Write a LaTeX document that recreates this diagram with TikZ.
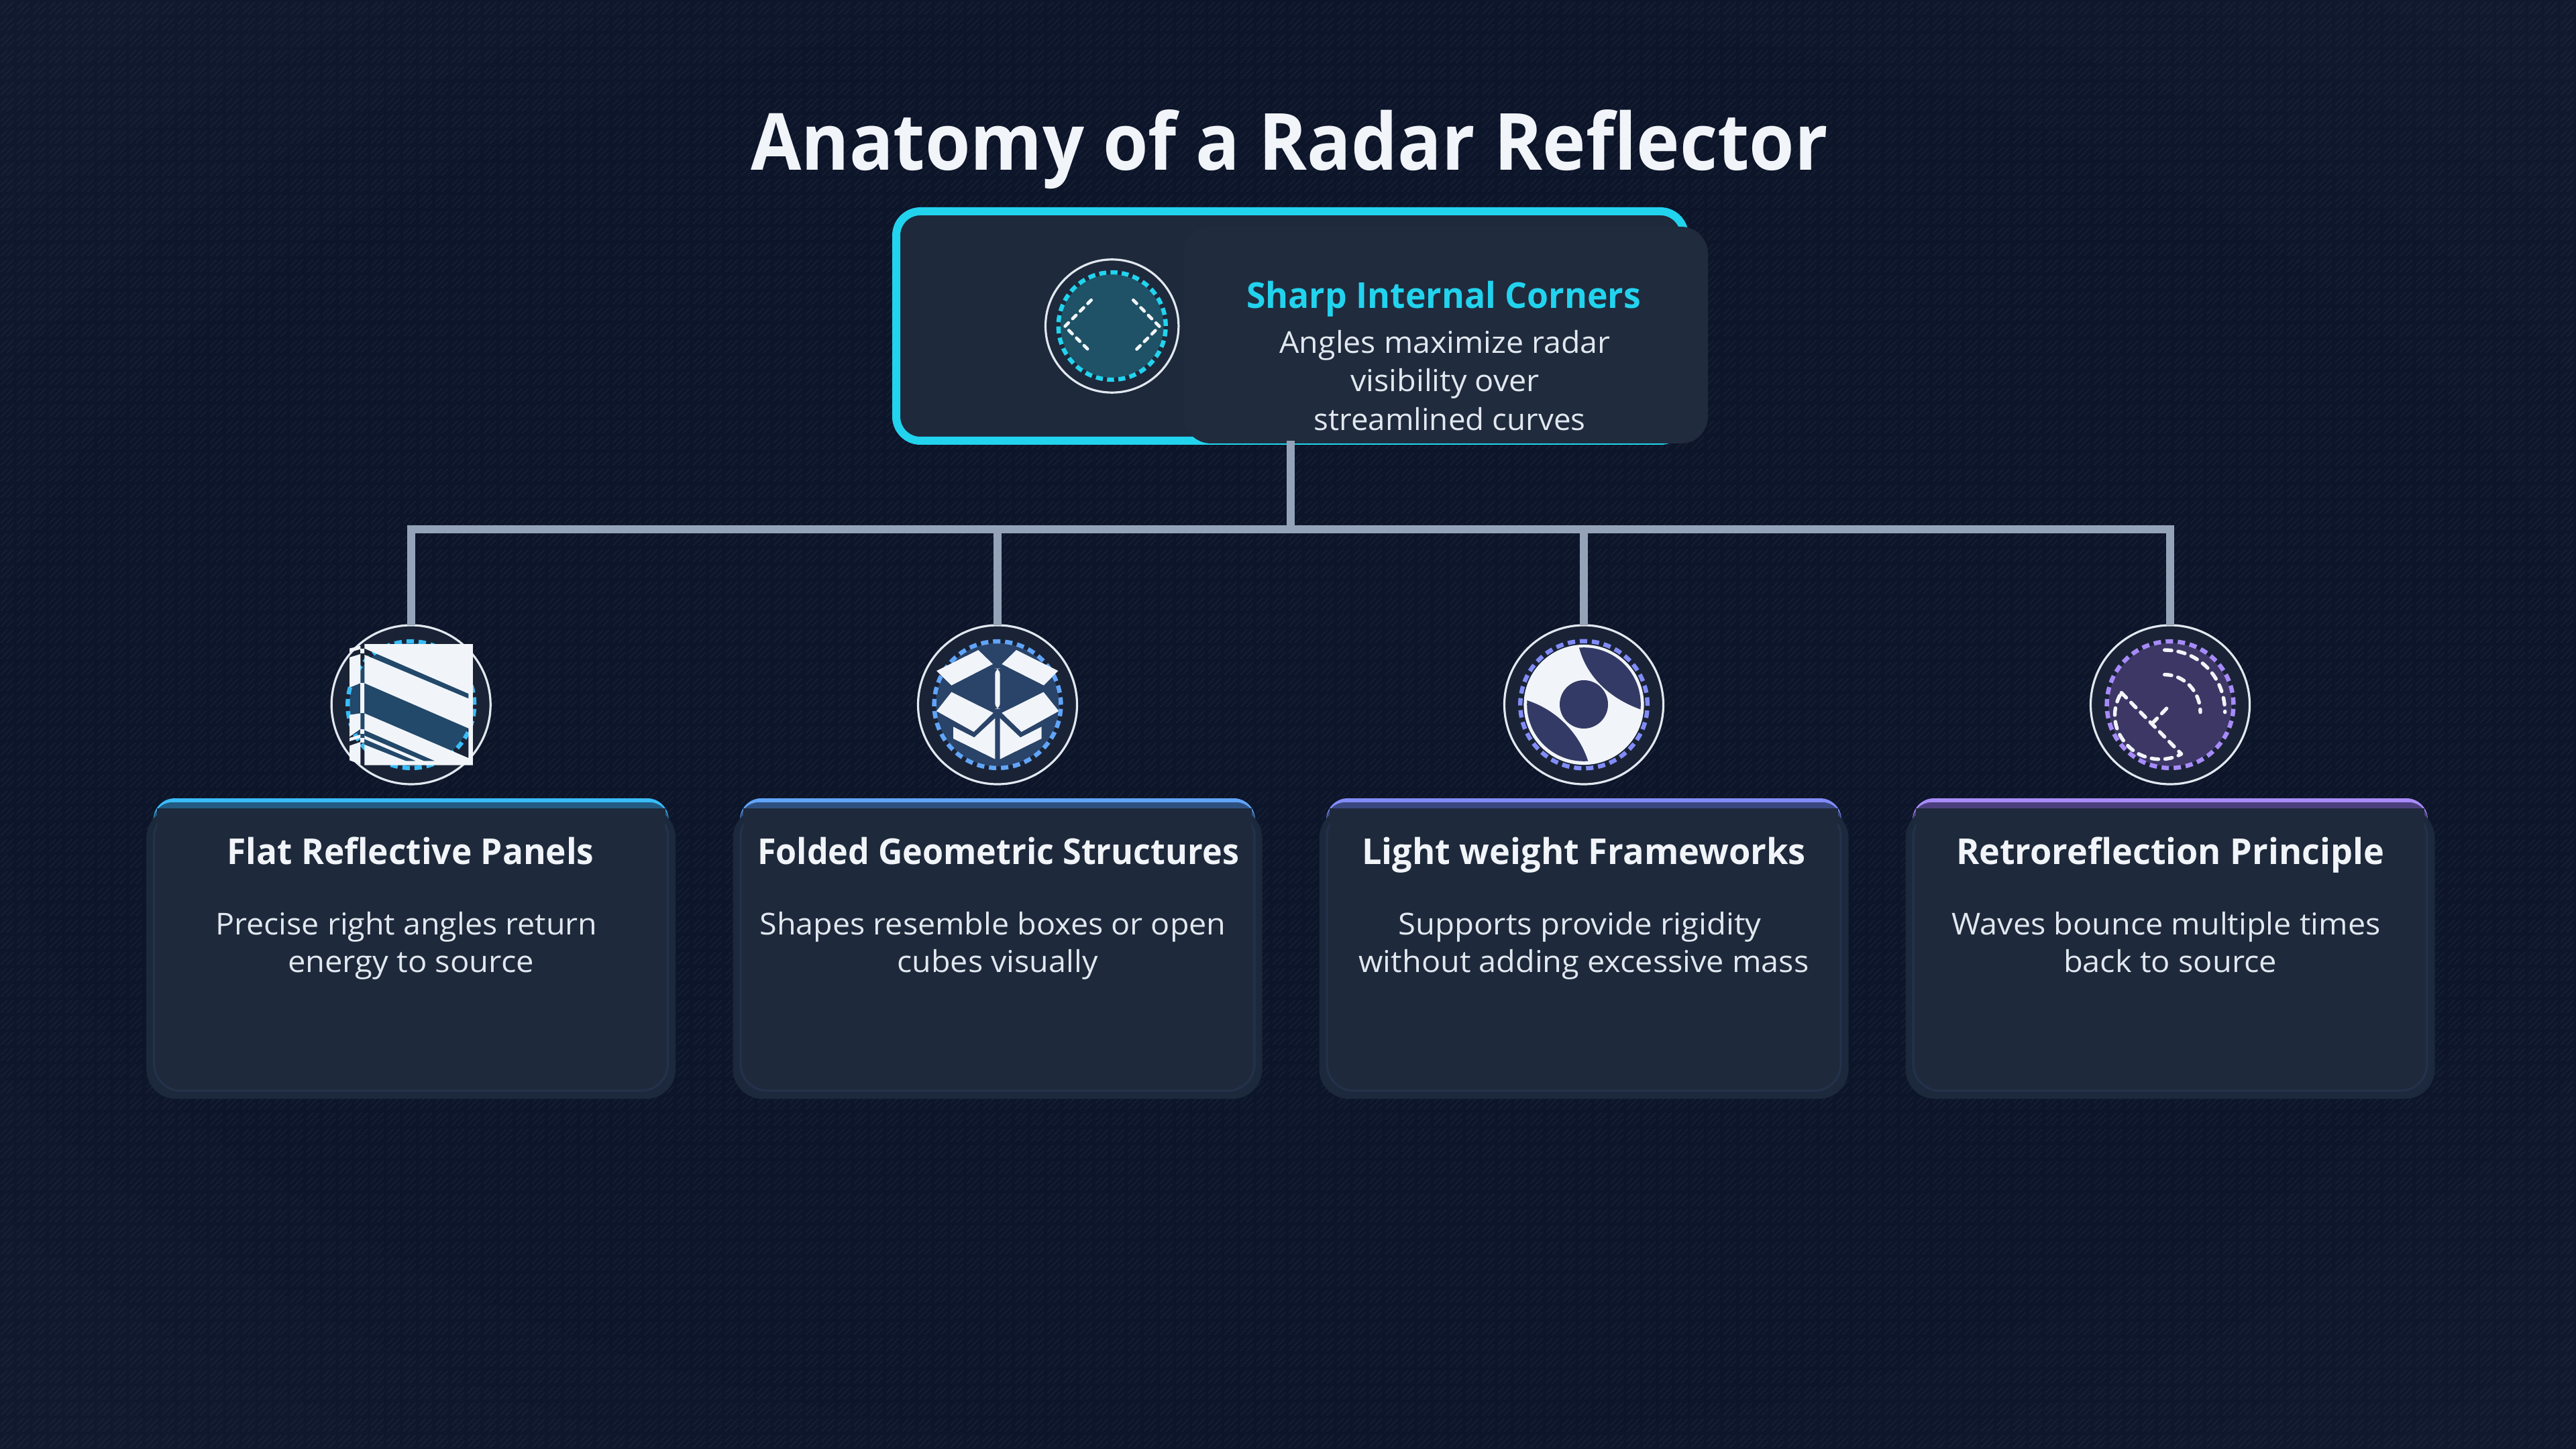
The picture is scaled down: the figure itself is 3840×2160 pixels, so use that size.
\documentclass[tikz,border=0pt]{standalone}
\usepackage{fontspec}
\usetikzlibrary{patterns}
\setmainfont{Open Sans}
\newcommand\headf{\bfseries}
\definecolor{bgin}{HTML}{0D152A}
\definecolor{bgout}{HTML}{1C263B}
\definecolor{cardfill}{HTML}{1E293B}
\definecolor{cardrim}{HTML}{1C283C}
\definecolor{cardedge}{HTML}{23314A}
\definecolor{discfill}{HTML}{1A2335}
\definecolor{ringline}{HTML}{E2E8F0}
\definecolor{wire}{HTML}{94A3B8}
\definecolor{paper}{HTML}{F1F5F9}
\definecolor{cyanA}{HTML}{22D3EE}
\definecolor{cyanB}{HTML}{1F5266}
\definecolor{blueA}{HTML}{38BDF8}
\definecolor{blueB}{HTML}{22486A}
\definecolor{blueC}{HTML}{235B82}
\definecolor{azureA}{HTML}{60A5FA}
\definecolor{azureB}{HTML}{2A4368}
\definecolor{azureC}{HTML}{2E5080}
\definecolor{indA}{HTML}{818CF8}
\definecolor{indB}{HTML}{333A66}
\definecolor{indC}{HTML}{3A4780}
\definecolor{vioA}{HTML}{A78BFA}
\definecolor{vioB}{HTML}{3D3765}
\definecolor{vioC}{HTML}{4C3F7E}
\pgfdeclareradialshading{bgshade}{\pgfpoint{0bp}{0bp}}{color(0bp)=(bgin);color(24bp)=(bgin);color(66bp)=(bgout)}
\pgfdeclarepatternformonly{tilediag}{\pgfqpoint{0pt}{0pt}}{\pgfqpoint{6pt}{6pt}}{\pgfqpoint{6pt}{6pt}}{%
  \pgfsetlinewidth{.4pt}\pgfsetroundcap
  \pgfpathmoveto{\pgfqpoint{.6pt}{.6pt}}\pgfpathlineto{\pgfqpoint{5.4pt}{5.4pt}}
  \pgfpathmoveto{\pgfqpoint{.6pt}{3pt}}\pgfpathlineto{\pgfqpoint{3pt}{5.4pt}}
  \pgfpathmoveto{\pgfqpoint{3pt}{.6pt}}\pgfpathlineto{\pgfqpoint{5.4pt}{3pt}}
  \pgfusepath{stroke}}
\newlength\fwl
\newcommand\fw[2]{\settowidth\fwl{#2}\pgfmathsetmacro\fwf{#1*0.25/\fwl}\scalebox{\fwf}[1]{#2}}
\tikzset{
  txt/.style={anchor=base,inner sep=0pt,outer sep=0pt},
  bodytxt/.style={txt,text=ringline,font=\fontsize{11.25}{13}\selectfont},
  headtxt/.style={txt,text=paper,font=\headf\fontsize{13.3}{15}\selectfont},
  disc/.style={circle,draw=ringline,line width=.8pt,fill=discfill,minimum size=59.25pt,inner sep=0pt,outer sep=0pt},
  wirel/.style={draw=wire,line width=3pt},
  zoomed/.style={x=.083333pt,y=-.083333pt},
  dashring/.style={line width=1.6pt,dash pattern=on 2.75pt off 1.75pt},
  glyph/.style={draw=paper,line cap=round,line join=round},
}
\begin{document}
\begin{tikzpicture}[x=.25pt,y=-.25pt]
\useasboundingbox (0,0) rectangle (3840,2160);
\shade[shading=bgshade] (0,0) rectangle (3840,2160);
\fill[pattern=tilediag,pattern color=white,fill opacity=.045] (0,0) rectangle (3840,2160);

% title
\node[txt,text=paper,font=\headf\fontsize{29.4}{32}\selectfont] (title) at (1922,254) {\fw{1606}{Anatomy of a Radar Reflector}};

% top card
\node[rectangle,draw=cyanA,line width=3pt,fill=cardfill,rounded corners=9pt,minimum width=293.75pt,minimum height=85.5pt,outer sep=0pt,inner sep=0pt] (main) at (1923.5,486) {};
\fill[fill=cardfill!99!white,rounded corners=10pt] (1765,338) rectangle (2546,661);
\node[circle,draw=ringline,line width=.8pt,minimum size=49.6pt,inner sep=0pt,outer sep=0pt] (topdisc) at (1657.7,486) {};
\fill[cyanB] (topdisc.center) circle[radius=19.2pt];
\draw[cyanA,line width=1.6pt,dash pattern=on 2.6pt off 1.6pt] (topdisc.center) circle[radius=20pt];
\begin{scope}[shift={(1500,360)},zoomed]
  \draw[glyph,line width=1.2pt,dash pattern=on 1.8pt off 2.2pt] (380,262) -- (262,380) -- (380,497);
  \draw[glyph,line width=1.2pt,dash pattern=on 1.8pt off 2.2pt] (568,262) -- (685,380) -- (568,497);
\end{scope}
\node[txt,text=cyanA,font=\headf\fontsize{13.3}{15}\selectfont] (toph) at (2152,460) {\fw{588}{Sharp Internal Corners}};
\node[bodytxt] (topa) at (2154,527) {\fw{493}{Angles maximize radar}};
\node[bodytxt] (topb) at (2154,584) {\fw{282}{visibility over}};
\node[bodytxt] (topc) at (2161,642) {\fw{405}{streamlined curves}};

% cards
\foreach \n/\cx/\cA/\cC in {1/612.7/blueA/blueC,2/1487/azureA/azureC,3/2361/indA/indC,4/3235/vioA/vioC}{
  \fill[\cA,rounded corners=8pt] (\cx-384,1190) rectangle (\cx+384,1300);
  \fill[\cC,rounded corners=7pt] (\cx-384,1196) rectangle (\cx+384,1300);
  \node[rectangle,fill=cardrim,rounded corners=11pt,minimum width=197.25pt,minimum height=108.25pt,inner sep=0pt,outer sep=0pt] (card\n) at (\cx,1421.5) {};
  \fill[cardfill,draw=cardedge,line width=.8pt,rounded corners=10pt] (\cx-383,1207) rectangle (\cx+383,1626);
  \fill[cardfill] (\cx-379,1205) rectangle (\cx+379,1230);
  \node[disc] (ic\n) at (\cx,1050.5) {};
}

% connectors
\coordinate (hub) at (main.south |- 0,789);
\coordinate (h1) at (ic1.north |- hub);
\coordinate (h2) at (ic2.north |- hub);
\coordinate (h3) at (ic3.north |- hub);
\coordinate (h4) at (ic4.north |- hub);
\draw[wirel] (main.south) -- (hub);
\draw[wirel] (ic1.north) -- (h1) -- (h4) -- (ic4.north);
\draw[wirel] (h2) -- (ic2.north);
\draw[wirel] (h3) -- (ic3.north);

% icon bases
\fill[blueB] (ic1.center) circle[radius=23pt];
\fill[azureB] (ic2.center) circle[radius=23pt];
\fill[paper] (ic3.center) circle[radius=22.4pt];
\fill[vioB] (ic4.center) circle[radius=23pt];
\draw[blueA,dashring] (ic1.center) circle[radius=23.6pt];
\draw[azureA,dashring] (ic2.center) circle[radius=23.6pt];
\draw[indA,dashring] (ic3.center) circle[radius=23.7pt];
\draw[vioA,dashring] (ic4.center) circle[radius=23.6pt];

% icon 1: panels
\begin{scope}[shift={(460,900)},zoomed]
  \fill[paper,even odd rule] (250,180) -- (735,180) -- (735,722) -- (250,722) -- cycle
    (250,200) -- (715,402) -- (715,424) -- (250,228) -- cycle
    (250,355) -- (715,557) -- (715,690) -- (250,490) -- cycle
    (250,565) -- (565,703) -- (515,703) -- (250,590) -- cycle
    (250,605) -- (480,703) -- (435,703) -- (250,630) -- cycle;
  \fill[paper] (183,200) -- (232,188) -- (232,203) -- (183,217) -- cycle;
  \fill[paper] (183,240) -- (232,225) -- (232,355) -- (183,375) -- cycle;
  \fill[paper] (183,497) -- (232,490) -- (232,560) -- (183,595) -- cycle;
  \fill[paper] (183,600) -- (232,585) -- (232,600) -- (183,615) -- cycle;
  \fill[paper] (183,635) -- (232,618) -- (232,718) -- (183,700) -- cycle;
  \fill[paper] (232,200) rectangle (250,222);
  \fill[paper] (232,355) rectangle (250,490);
  \fill[paper] (232,562) rectangle (250,582);
  \fill[paper] (232,600) rectangle (250,620);
\end{scope}

% icon 2: open box
\begin{scope}[shift={(1330,900)},zoomed]
  \fill[paper] (385,207) -- (450,270) -- (265,365) -- (198,300) -- cycle;
  \fill[paper] (555,207) -- (742,300) -- (678,365) -- (490,270) -- cycle;
  \fill[paper] (265,395) -- (452,488) -- (365,573) -- (198,480) -- cycle;
  \fill[paper] (677,395) -- (745,480) -- (578,573) -- (490,488) -- cycle;
  \fill[paper,rounded corners=2pt] (460,290) rectangle (482,470);
  \fill[paper] (273,550) -- (367,598) -- (460,512) -- (460,695) -- (273,603) -- cycle;
  \fill[paper] (482,512) -- (573,598) -- (668,550) -- (668,603) -- (482,695) -- cycle;
\end{scope}

% icon 3: framework
\begin{scope}[shift={(2200,900)},zoomed]
  \begin{scope}
    \clip (483,450) circle[radius=21.2pt];
    \fill[indB] (462,197) .. controls (495,320) and (590,420) .. (738,473) -- (1000,520) -- (1000,100) -- (450,100) -- cycle;
    \fill[indB] (228,432) .. controls (350,470) and (460,570) .. (503,707) -- (520,900) -- (100,900) -- (100,410) -- cycle;
  \end{scope}
  \fill[indB] (483,450) circle[radius=9pt];
\end{scope}

% icon 4: dish and waves
\begin{scope}[shift={(3075,900)},zoomed]
  \draw[glyph,line width=1.35pt,dash pattern=on 2.6pt off 2.5pt]
    (262,398) -- (530,672) .. controls (470,705) and (385,705) .. (320,660) .. controls (225,590) and (210,480) .. (262,398);
  \draw[glyph,line width=1.35pt,dash pattern=on 2.6pt off 2.5pt] (400,535) -- (470,462);
  \draw[glyph,line width=1.35pt,dash pattern=on 2.6pt off 2.5pt] (455,207) .. controls (610,207) and (725,330) .. (725,485);
  \draw[glyph,line width=1.35pt,dash pattern=on 2.6pt off 2.5pt] (455,317) .. controls (545,317) and (615,395) .. (615,485);
\end{scope}

% card texts
\node[headtxt] (t1) at (612,1288) {\fw{547}{Flat Reflective Panels}};
\node[bodytxt] (a1) at (606,1393) {\fw{569}{Precise right angles return}};
\node[bodytxt] (b1) at (612.6,1449) {\fw{367}{energy to source}};
\node[headtxt] (t2) at (1488,1288) {\fw{718}{Folded Geometric Structures}};
\node[bodytxt] (a2) at (1480,1393) {\fw{695}{Shapes resemble boxes or open}};
\node[bodytxt] (b2) at (1487,1449) {\fw{299}{cubes visually}};
\node[headtxt] (t3) at (2361,1288) {\fw{662}{Light weight Frameworks}};
\node[bodytxt] (a3) at (2355,1393) {\fw{541}{Supports provide rigidity}};
\node[bodytxt] (b3) at (2361,1449) {\fw{671}{without adding excessive mass}};
\node[headtxt] (t4) at (3235,1288) {\fw{638}{Retroreflection Principle}};
\node[bodytxt] (a4) at (3229,1393) {\fw{639}{Waves bounce multiple times}};
\node[bodytxt] (b4) at (3235,1449) {\fw{318}{back to source}};
\end{tikzpicture}
\end{document}
